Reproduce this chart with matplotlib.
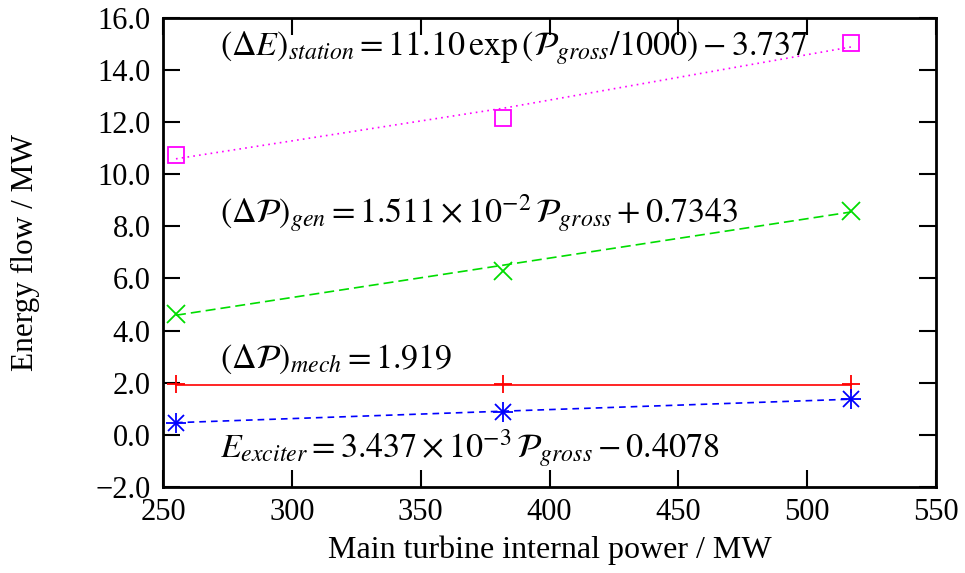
import matplotlib
matplotlib.use("Agg")
import matplotlib.pyplot as plt
from matplotlib.ticker import FuncFormatter, MultipleLocator

plt.rcParams['font.family'] = ['Liberation Serif', 'DejaVu Serif']
plt.rcParams['mathtext.fontset'] = 'stix'

# --- dados ---
power = [255, 382, 517]

station_pts = [10.75, 12.15, 15.05]
station_fit = [10.59, 12.53, 14.88]

gen_pts = [4.65, 6.30, 8.60]
gen_fit = [4.59, 6.51, 8.55]

mech_pts = [1.95, 1.95, 1.95]
mech_fit = [1.919, 1.919, 1.919]

exciter_pts = [0.45, 0.88, 1.38]
exciter_fit = [0.47, 0.91, 1.37]

labels = [
    r'$\left(\Delta E\right)_{station} = 11.10\,\exp\left(\mathcal{P}_{gross}/1000\right) - 3.737$',
    r'$\left(\Delta \mathcal{P}\right)_{gen} = 1.511\times10^{-2}\,\mathcal{P}_{gross} + 0.7343$',
    r'$\left(\Delta \mathcal{P}\right)_{mech} = 1.919$',
    r'$E_{exciter} = 3.437\times10^{-3}\,\mathcal{P}_{gross} - 0.4078$',
]
label_y = [14.85, 8.5, 2.9, -0.5]

fig = plt.figure(figsize=(9.65, 5.73), dpi=100)
ax = fig.add_axes([0.169, 0.150, 0.801, 0.819])

fs = 22

# linhas de ajuste
ax.plot(power, station_fit, color='#ff00ff', ls=(0, (1, 2.5)), lw=1.2)
ax.plot(power, gen_fit, color='#00dd00', ls=(0, (6, 3)), lw=1.2)
ax.plot(power, mech_fit, color='#ff0000', ls='-', lw=1.2)
ax.plot(power, exciter_fit, color='#0000ff', ls=(0, (4, 3)), lw=1.2)

# pontos medidos
ax.plot(power, station_pts, 's', mfc='none', mec='#ff00ff', ms=12, mew=1.3)
ax.plot(power, gen_pts, 'x', color='#00dd00', ms=13, mew=1.3)
ax.plot(power, mech_pts, '+', color='#ff0000', ms=13, mew=1.3)
ax.plot(power, exciter_pts, 'x', color='#0000ff', ms=11, mew=1.3)
ax.plot(power, exciter_pts, '+', color='#0000ff', ms=15, mew=1.3)

for txt, y in zip(labels, label_y):
    ax.text(272, y, txt, fontsize=24.5, ha='left', va='center')

ax.set_xlim(250, 550)
ax.set_ylim(-2, 16)
ax.xaxis.set_major_locator(MultipleLocator(50))
ax.yaxis.set_major_locator(MultipleLocator(2))
ax.yaxis.set_major_formatter(FuncFormatter(lambda v, p: f'{v:.1f}'.replace('-', '\u2212')))

ax.tick_params(direction='in', length=12, width=1.5, top=True, right=True,
               labelsize=fs)
ax.tick_params(axis='x', pad=8)
ax.tick_params(axis='y', pad=9)
for s in ax.spines.values():
    s.set_linewidth(2)

ax.set_xlabel('Main turbine internal power / MW', fontsize=23, labelpad=6)
ax.set_ylabel('Energy flow / MW', fontsize=22.5, labelpad=40)

fig.savefig('out.png', dpi=100)
